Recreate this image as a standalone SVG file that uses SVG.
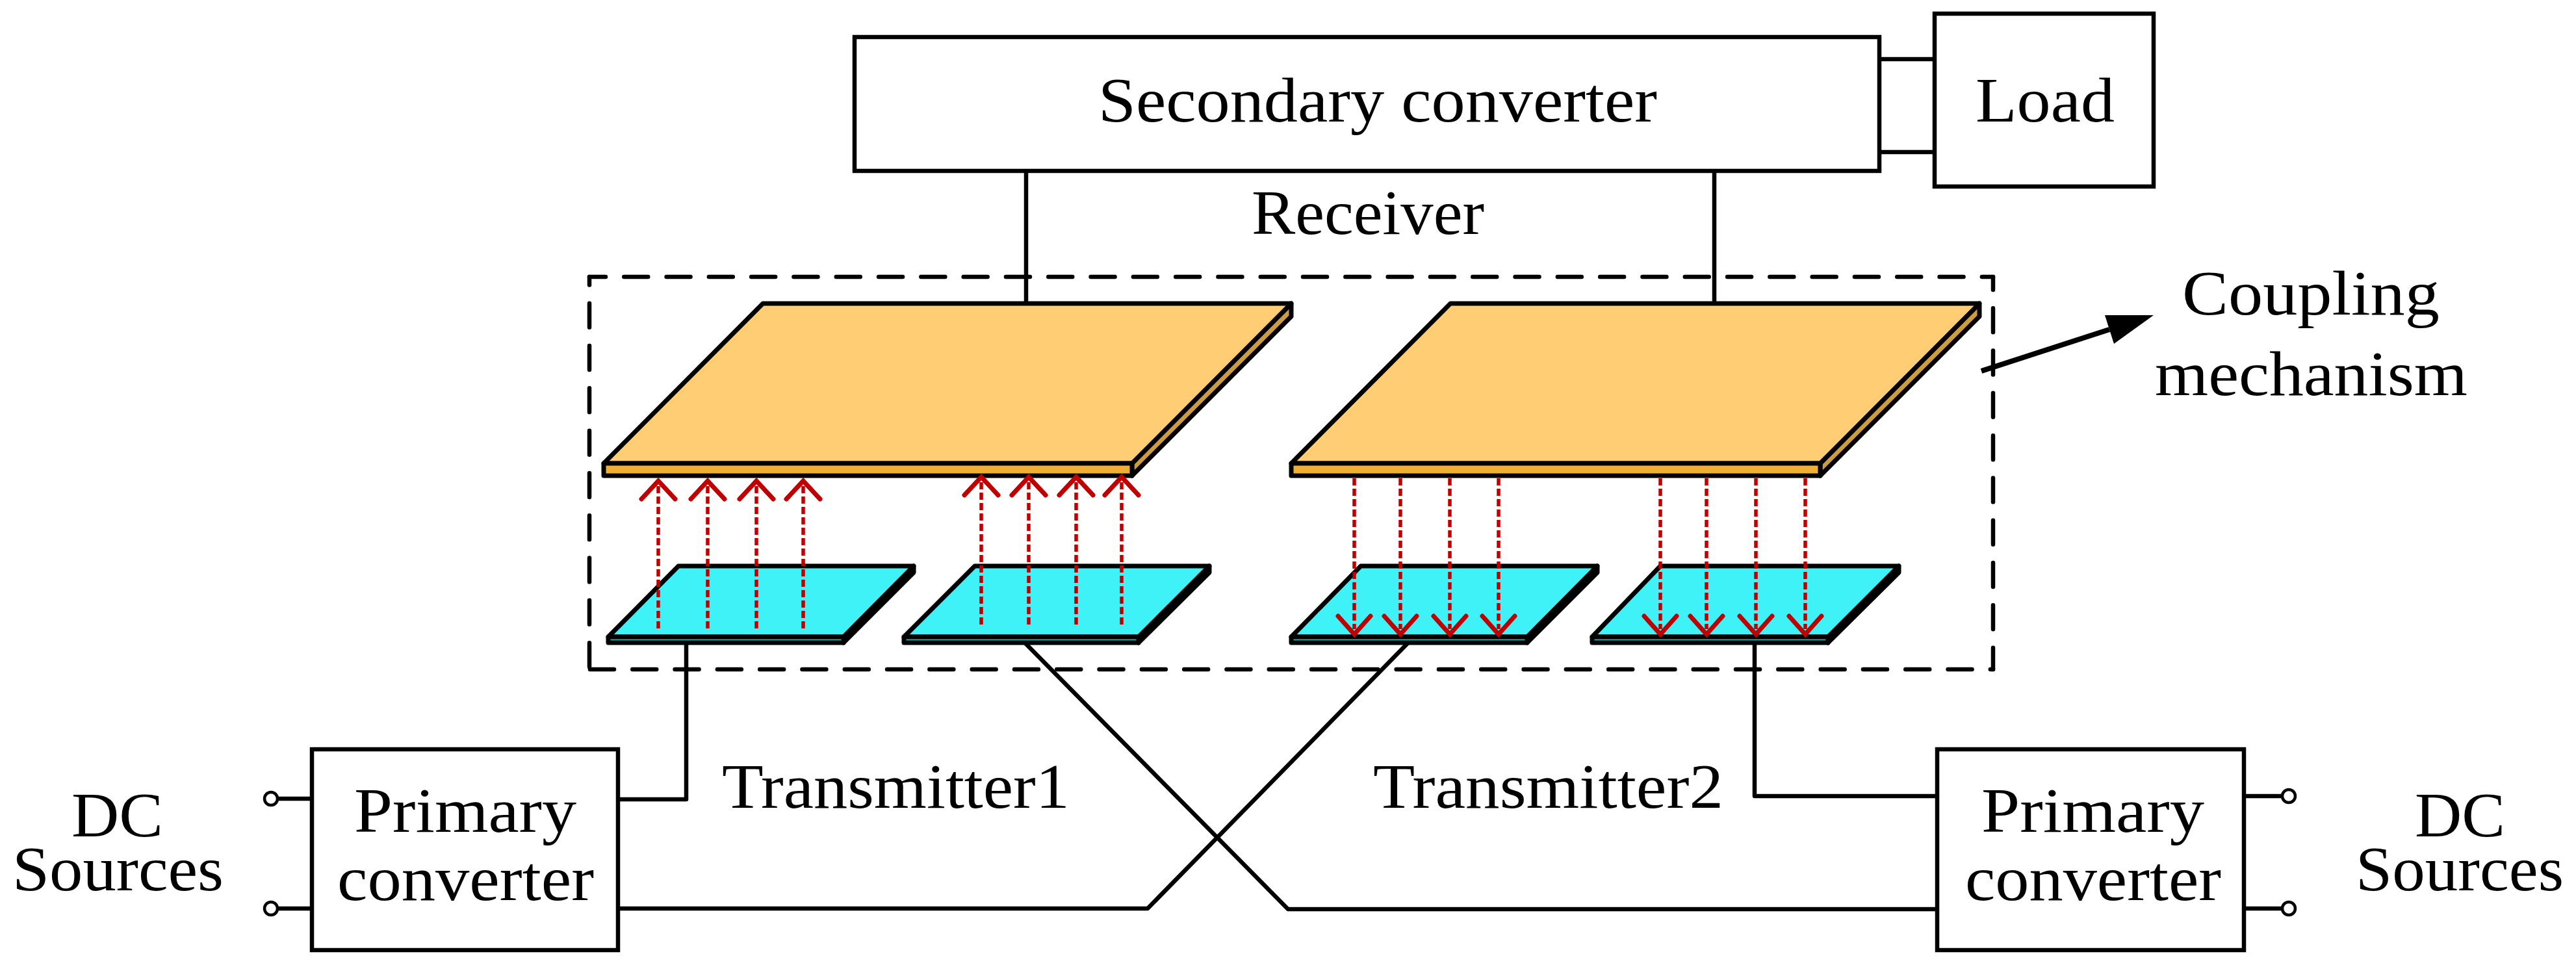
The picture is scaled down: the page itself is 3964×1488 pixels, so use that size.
<svg xmlns="http://www.w3.org/2000/svg" width="3964" height="1488" viewBox="0 0 3964 1488">
<defs>
<style>
text{font-family:"Liberation Serif","Times New Roman",serif;font-size:97px;fill:#000}
.box{fill:#fff;stroke:#000;stroke-width:6.5}
.w{fill:none;stroke:#000;stroke-width:6.5;stroke-linejoin:round}
.o{stroke:#000;stroke-width:7;stroke-linejoin:round}
.d{fill:none;stroke:#000;stroke-width:6.5;stroke-dasharray:37 28.3;stroke-linecap:round}
.top{fill:#FECD74}.front{fill:#F0AE32}.side{fill:#CC9C3F}
.btop{fill:#3FF2F7}.bfront{fill:#2DA6A8}.bside{fill:#000}
.f{fill:none;stroke:#C00000;stroke-width:5.5;stroke-dasharray:11 5}
.h{fill:none;stroke:#C00000;stroke-width:7;stroke-linecap:round;stroke-linejoin:miter}
.t{fill:#fff;stroke:#000;stroke-width:4.5}
</style>
<g id="up"><path class="f" d="M0 8V230"/><path class="h" d="M-26 28L0 0L26 28"/></g>
<g id="dn"><path class="f" d="M0 -240V-8"/><path class="h" d="M-25 -28L0 0L25 -28"/></g>
</defs>
<rect width="3964" height="1488" fill="#fff"/>
<g id="coupling-boundary">
<path class="d" d="M907 426H3067" stroke-dashoffset="12.05"/>
<path class="d" d="M907 1030H3067" stroke-dashoffset="-0.95"/>
<path class="d" d="M907 426V1030" stroke-dashoffset="24.55"/>
<path class="d" d="M3067 426V1030" stroke-dashoffset="17.05"/>
</g>
<g id="connectors">
<path class="w" d="M1579 263V467"/>
<path class="w" d="M2638 263V467"/>
<path class="w" d="M2892 91H2977"/>
<path class="w" d="M2892 234H2977"/>
<path class="w" d="M1056 989V1230H951"/>
<path class="w" d="M951 1398H1766L2166 990"/>
<path class="w" d="M1573 985L1982 1399H2981"/>
<path class="w" d="M2700 990V1225H2981"/>
<path class="w" d="M427 1229H480"/>
<path class="w" d="M427 1398H480"/>
<path class="w" d="M3453 1225H3512"/>
<path class="w" d="M3453 1398H3512"/>
<path class="w" style="stroke-width:8" d="M3049 571L3246 507"/>
<polygon points="3314,485 3239,485 3253,529" fill="#000"/>
</g>
<g id="secondary-converter"><rect class="box" x="1315" y="57" width="1577" height="206"/><text x="1690" y="187" textLength="860" lengthAdjust="spacingAndGlyphs">Secondary converter</text></g>
<g id="load"><rect class="box" x="2977" y="21" width="337" height="266"/><text x="3040" y="187" textLength="214" lengthAdjust="spacingAndGlyphs">Load</text></g>
<text id="receiver" x="1926" y="360" textLength="358" lengthAdjust="spacingAndGlyphs">Receiver</text>
<g id="coupling-label"><text x="3358" y="484" textLength="396" lengthAdjust="spacingAndGlyphs">Coupling</text><text x="3316" y="608" textLength="481" lengthAdjust="spacingAndGlyphs">mechanism</text></g>
<g id="receiver-plate-1">
<polygon class="o side" points="1742,713 1987,467 1987,487 1742,732"/>
<polygon class="o top" points="1174,467 1987,467 1742,713 929,713"/>
<rect class="o front" x="929" y="713" width="813" height="19"/>
</g>
<g id="receiver-plate-2">
<polygon class="o side" points="2801,713 3046,467 3046,487 2801,732"/>
<polygon class="o top" points="2232,467 3046,467 2801,713 1987,713"/>
<rect class="o front" x="1987" y="713" width="814" height="19"/>
</g>
<g id="transmitter-pad-1">
<polygon class="o bside" points="1298,980 1406,871 1406,881 1298,989"/>
<polygon class="o btop" points="1044,871 1406,871 1298,980 936,980"/>
<rect class="o bfront" x="936" y="980" width="362" height="9"/>
</g>
<g id="transmitter-pad-2">
<polygon class="o bside" points="1752,980 1861,871 1861,881 1752,989"/>
<polygon class="o btop" points="1500,871 1861,871 1752,980 1391,980"/>
<rect class="o bfront" x="1391" y="980" width="361" height="9"/>
</g>
<g id="transmitter-pad-3">
<polygon class="o bside" points="2350,980 2458,871 2458,881 2350,989"/>
<polygon class="o btop" points="2094,871 2458,871 2350,980 1987,980"/>
<rect class="o bfront" x="1987" y="980" width="363" height="9"/>
</g>
<g id="transmitter-pad-4">
<polygon class="o bside" points="2813,980 2922,871 2922,881 2813,989"/>
<polygon class="o btop" points="2555,871 2922,871 2813,980 2450,980"/>
<rect class="o bfront" x="2450" y="980" width="363" height="9"/>
</g>
<g id="flux-arrows">
<use href="#up" x="1013" y="740"/><use href="#up" x="1089" y="740"/><use href="#up" x="1164" y="740"/><use href="#up" x="1236" y="740"/>
<use href="#up" x="1510" y="734"/><use href="#up" x="1583" y="734"/><use href="#up" x="1656" y="734"/><use href="#up" x="1726" y="734"/>
<use href="#dn" x="2084" y="976"/><use href="#dn" x="2155" y="976"/><use href="#dn" x="2231" y="976"/><use href="#dn" x="2306" y="976"/>
<use href="#dn" x="2555" y="976"/><use href="#dn" x="2626" y="976"/><use href="#dn" x="2702" y="976"/><use href="#dn" x="2778" y="976"/>
</g>
<g id="primary-converter-1"><rect class="box" x="480" y="1153" width="471" height="309"/><text x="545" y="1280" textLength="342" lengthAdjust="spacingAndGlyphs">Primary</text><text x="519" y="1385" textLength="395" lengthAdjust="spacingAndGlyphs">converter</text></g>
<g id="primary-converter-2"><rect class="box" x="2981" y="1153" width="472" height="309"/><text x="3049" y="1280" textLength="343" lengthAdjust="spacingAndGlyphs">Primary</text><text x="3024" y="1385" textLength="394" lengthAdjust="spacingAndGlyphs">converter</text></g>
<g id="transmitter-labels"><text x="1111" y="1243" textLength="535" lengthAdjust="spacingAndGlyphs">Transmitter1</text><text x="2113" y="1243" textLength="539" lengthAdjust="spacingAndGlyphs">Transmitter2</text></g>
<g id="dc-sources-1"><circle class="t" cx="417" cy="1229" r="10"/><circle class="t" cx="417" cy="1398" r="10"/><text x="110" y="1287" textLength="141" lengthAdjust="spacingAndGlyphs">DC</text><text x="19" y="1370" textLength="325" lengthAdjust="spacingAndGlyphs">Sources</text></g>
<g id="dc-sources-2"><circle class="t" cx="3522" cy="1225" r="10"/><circle class="t" cx="3522" cy="1398" r="10"/><text x="3716" y="1287" textLength="139" lengthAdjust="spacingAndGlyphs">DC</text><text x="3625" y="1370" textLength="320" lengthAdjust="spacingAndGlyphs">Sources</text></g>
</svg>
